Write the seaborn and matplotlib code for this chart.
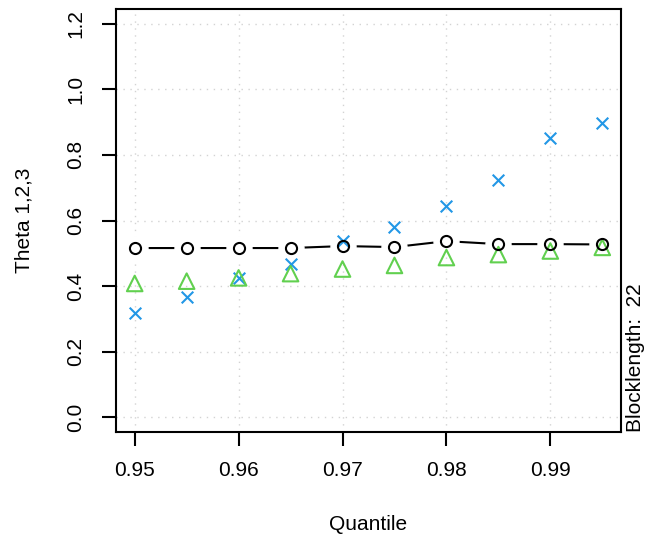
import numpy as np
import pandas as pd
import seaborn as sns
import matplotlib.pyplot as plt

quantiles = [0.95, 0.955, 0.96, 0.965, 0.97, 0.975, 0.98, 0.985, 0.99, 0.995]
theta_1 = [0.516, 0.516, 0.516, 0.516, 0.522, 0.519, 0.537, 0.528, 0.528, 0.527]
theta_2 = [0.319, 0.368, 0.425, 0.466, 0.537, 0.580, 0.643, 0.725, 0.853, 0.897]
theta_3 = [0.408, 0.415, 0.425, 0.438, 0.452, 0.463, 0.487, 0.496, 0.507, 0.518]
x_ticks = [0.95, 0.96, 0.97, 0.98, 0.99]
y_ticks = [0.0, 0.2, 0.4, 0.6, 0.8, 1.0, 1.2]
block_length = 22

sns.set_style("white")
plt.rcParams["font.family"] = ["Liberation Sans", "DejaVu Sans"]
plt.rcParams["text.color"] = "black"
plt.rcParams["axes.labelcolor"] = "black"

df = pd.DataFrame({"q": quantiles, "t1": theta_1, "t2": theta_2, "t3": theta_3})

fig = plt.figure(figsize=(6.49, 5.40), dpi=100)
ax = fig.add_axes([116 / 649, 1 - 432 / 540, (621 - 116) / 649, (432 - 9) / 540])

# dotted grid like R's grid()
for xv in x_ticks:
    ax.axvline(xv, color="lightgray", lw=1.0, ls=(0, (1, 4)), zorder=0)
for yv in y_ticks:
    ax.axhline(yv, color="lightgray", lw=1.0, ls=(0, (1, 4)), zorder=0)

# type="b" line: line with gaps around the points
sns.lineplot(data=df, x="q", y="t1", ax=ax, color="black", lw=1.5, zorder=2)
ax.plot(df["q"], df["t1"], ls="none", marker="o", ms=18, mfc="white", mec="white", zorder=3)

sns.scatterplot(data=df, x="q", y="t2", ax=ax, marker="x", s=70, color="#2297E6",
                linewidth=1.5, zorder=4)
sns.scatterplot(data=df, x="q", y="t3", ax=ax, marker="^", s=125, facecolor="none",
                edgecolor="#61D04F", linewidth=1.5, zorder=4)
ax.plot(df["q"], df["t1"], ls="none", marker="o", ms=8, mfc="none", mec="black",
        mew=1.5, zorder=5)

ax.set_xlim(0.9482, 0.9968)
ax.set_ylim(-0.045, 1.245)
ax.set_xticks(x_ticks)
ax.set_xticklabels([f"{v:.2f}" for v in x_ticks])
ax.set_yticks(y_ticks)
ax.set_yticklabels([f"{v:.1f}" for v in y_ticks], rotation=90, va="center")

for s in ax.spines.values():
    s.set_visible(True)
    s.set_color("black")
    s.set_linewidth(1.5)

ax.tick_params(axis="both", direction="out", length=10, width=1.5, color="black",
               labelsize=15, labelcolor="black", bottom=True, left=True)
ax.tick_params(axis="x", pad=11)
ax.tick_params(axis="y", pad=12)

ax.set_xlabel("Quantile", fontsize=15, labelpad=25)
ax.set_ylabel("Theta 1,2,3", fontsize=15, labelpad=24)

ax.text(1.0297, 0.0, f"Blocklength:  {block_length}", transform=ax.transAxes,
        rotation=90, ha="center", va="bottom", fontsize=15)

fig.savefig("out.png", dpi=100)
